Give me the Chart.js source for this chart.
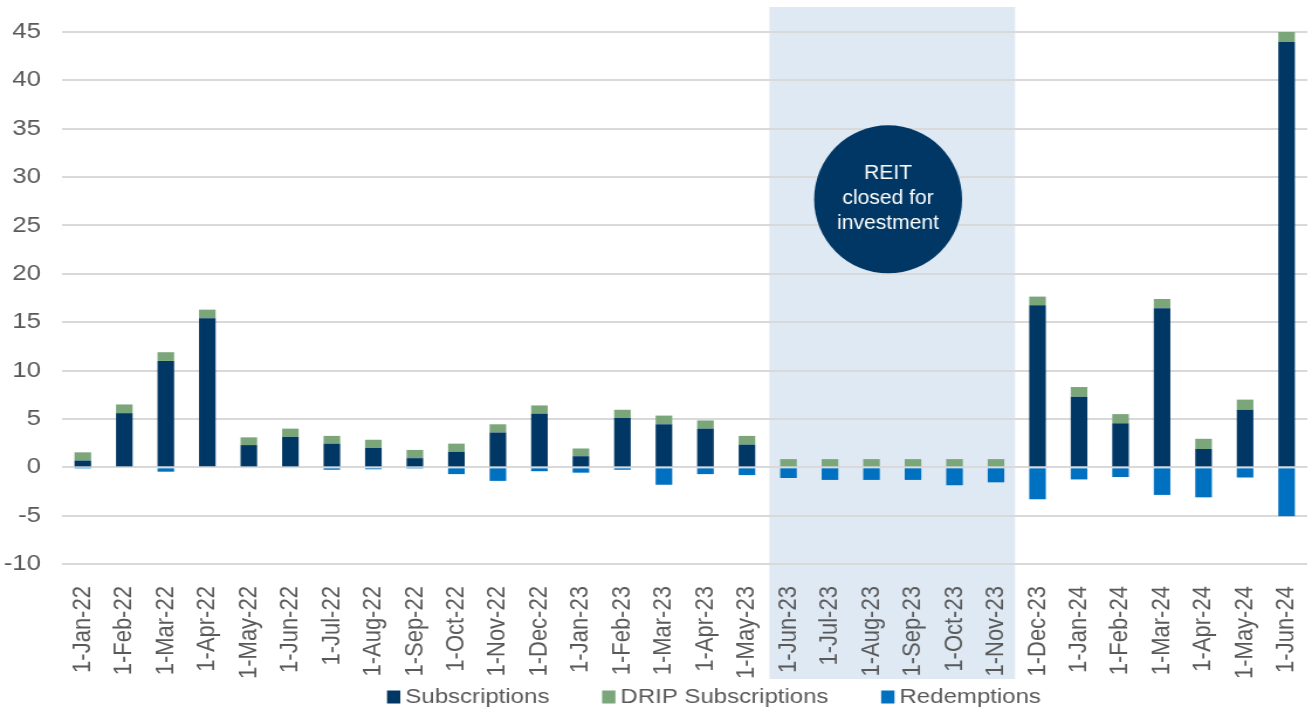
<!DOCTYPE html>
<html>
<head>
<meta charset="utf-8">
<script src="https://cdn.jsdelivr.net/npm/chart.js@4"></script>
<style>
  html, body { margin: 0; padding: 0; background: #fff; overflow: hidden; }
  /* the source picture is stretched sideways, so we draw narrower and stretch */
  #wrap { position: absolute; left: 0; top: 0; width: 1121px; height: 709px;
          transform: scaleX(1.1704); transform-origin: 0 0; }
</style>
</head>
<body>
<div id="wrap"><canvas id="flows"></canvas></div>
<script>
const months = ["1-Jan-22", "1-Feb-22", "1-Mar-22", "1-Apr-22", "1-May-22", "1-Jun-22",
  "1-Jul-22", "1-Aug-22", "1-Sep-22", "1-Oct-22", "1-Nov-22", "1-Dec-22",
  "1-Jan-23", "1-Feb-23", "1-Mar-23", "1-Apr-23", "1-May-23", "1-Jun-23",
  "1-Jul-23", "1-Aug-23", "1-Sep-23", "1-Oct-23", "1-Nov-23", "1-Dec-23",
  "1-Jan-24", "1-Feb-24", "1-Mar-24", "1-Apr-24", "1-May-24", "1-Jun-24"];

const subscriptions = [0.7, 5.6, 11.0, 15.4, 2.3, 3.15, 2.45, 2.0, 0.95, 1.6, 3.6, 5.55,
  1.15, 5.1, 4.45, 4.0, 2.35, 0, 0, 0, 0, 0, 0, 16.75,
  7.3, 4.55, 16.45, 1.9, 5.95, 44.0];

const dripSubscriptions = [0.85, 0.9, 0.9, 0.9, 0.8, 0.85, 0.8, 0.85, 0.85, 0.85, 0.85, 0.85,
  0.8, 0.85, 0.9, 0.85, 0.9, 0.85, 0.85, 0.85, 0.85, 0.85, 0.85, 0.9,
  1.0, 0.95, 0.95, 1.05, 1.05, 1.0];

const redemptions = [-0.05, 0, -0.45, 0, -0.1, -0.1, -0.25, -0.2, -0.05, -0.7, -1.4, -0.4,
  -0.55, -0.25, -1.8, -0.7, -0.8, -1.1, -1.3, -1.3, -1.3, -1.85, -1.55, -3.3,
  -1.25, -1.0, -2.85, -3.1, -1.05, -5.05];

const yTicks = { min: -10, max: 45, step: 5 };
const closedFrom = "1-Jun-23";
const closedTo = "1-Nov-23";
const closedNote = ["REIT", "closed for", "investment"];

const STRETCH = 1.1704;
const NAVY = "#003764";
const GREY = "#595959";
const FONT = "'Liberation Sans', Arial, sans-serif";

// light band behind the months when the REIT was closed
const closedBand = {
  id: "closedBand",
  beforeDraw(chart) {
    const { ctx, chartArea, scales } = chart;
    const i0 = months.indexOf(closedFrom), i1 = months.indexOf(closedTo);
    const left = scales.x.getPixelForValue(i0 - 0.46);
    const right = scales.x.getPixelForValue(i1 + 0.46);
    ctx.save();
    ctx.fillStyle = "#DFE9F4";
    ctx.fillRect(left, chartArea.top - 25, right - left, 679 - (chartArea.top - 25));
    ctx.restore();
  }
};

// the round note inside the band
const closedBubble = {
  id: "closedBubble",
  afterDatasetsDraw(chart) {
    const { ctx, scales } = chart;
    const i0 = months.indexOf(closedFrom);
    const cx = scales.x.getPixelForValue(i0 + 2.4);
    const cy = scales.y.getPixelForValue(27.7);
    ctx.save();
    ctx.fillStyle = NAVY;
    ctx.beginPath();
    ctx.ellipse(cx, cy, 74 / STRETCH, 74, 0, 0, Math.PI * 2);
    ctx.fill();
    ctx.translate(cx, cy);
    ctx.scale(0.9, 1);
    ctx.fillStyle = "#fff";
    ctx.font = "20px " + FONT;
    ctx.textAlign = "center";
    ctx.textBaseline = "alphabetic";
    closedNote.forEach((line, k) => ctx.fillText(line, 0, -20 + k * 25));
    ctx.restore();
  }
};

// legend row under the month labels, spaced like the original
const bottomLegend = {
  id: "bottomLegend",
  afterDraw(chart) {
    const { ctx } = chart;
    const sets = chart.data.datasets;
    const box = 11.4, gap = 4.3, between = 45, y = 697;
    ctx.save();
    ctx.font = "20.5px " + FONT;
    const widths = sets.map(ds => box + gap + ctx.measureText(ds.label).width);
    const total = widths.reduce((a, b) => a + b, 0) + between * (sets.length - 1);
    let x = 610 - total / 2;
    ctx.textBaseline = "middle";
    ctx.textAlign = "left";
    sets.forEach((ds, k) => {
      ctx.fillStyle = ds.backgroundColor;
      ctx.fillRect(x, y - 6.5, box, 13);
      ctx.fillStyle = GREY;
      ctx.fillText(ds.label, x + box + gap, y);
      x += widths[k] + between;
    });
    ctx.restore();
  }
};

new Chart(document.getElementById("flows"), {
  type: "bar",
  data: {
    labels: months,
    datasets: [
      { label: "Subscriptions", data: subscriptions, backgroundColor: NAVY },
      { label: "DRIP Subscriptions", data: dripSubscriptions, backgroundColor: "#7AA67A" },
      { label: "Redemptions", data: redemptions, backgroundColor: "#0070C0" }
    ]
  },
  options: {
    responsive: true,
    maintainAspectRatio: false,
    animation: false,
    categoryPercentage: 0.4,
    barPercentage: 1,
    layout: { padding: { left: 0, right: 4, top: 32, bottom: 16 } },
    plugins: {
      tooltip: { enabled: false },
      legend: { display: false }
    },
    scales: {
      x: {
        stacked: true,
        afterFit(scale) { scale.paddingLeft = 0; scale.paddingRight = 0; },
        grid: { display: false },
        border: { display: false },
        ticks: {
          autoSkip: false,
          minRotation: 90,
          maxRotation: 90,
          padding: 14,
          color: GREY,
          font: { family: FONT, size: 22 }
        }
      },
      y: {
        stacked: true,
        min: yTicks.min,
        max: yTicks.max,
        afterFit(scale) { scale.width = 53; },
        grid: { color: "#D9D9D9", lineWidth: 2, drawTicks: false },
        border: { display: false },
        ticks: {
          stepSize: yTicks.step,
          padding: 18,
          color: GREY,
          font: { family: FONT, size: 22 }
        }
      }
    }
  },
  plugins: [closedBand, closedBubble, bottomLegend]
});
</script>
</body>
</html>
